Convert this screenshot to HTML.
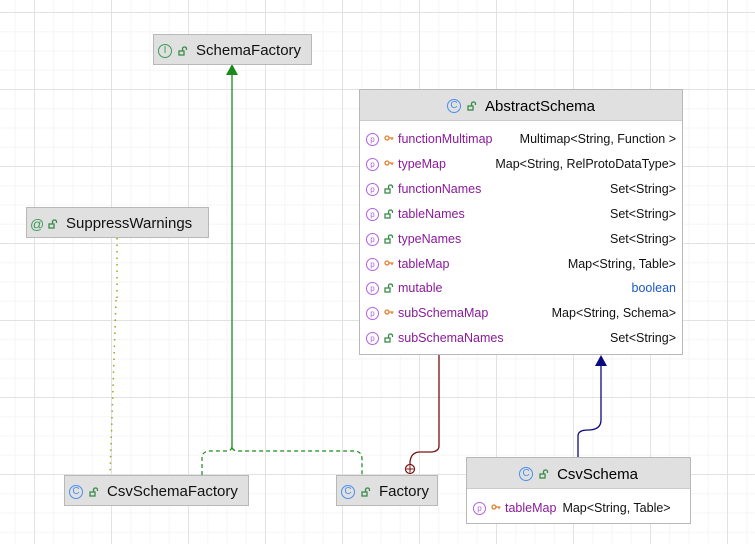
<!DOCTYPE html>
<html><head><style>
body{margin:0;width:755px;height:544px;overflow:hidden;background:#fff;font-family:"Liberation Sans",sans-serif;position:relative}
.grid{position:absolute;left:0;top:0;width:755px;height:544px;
background-image:linear-gradient(#e2e2e2 1px,transparent 1px),linear-gradient(90deg,#e2e2e2 1px,transparent 1px),linear-gradient(#f5f5f5 1px,transparent 1px),linear-gradient(90deg,#f5f5f5 1px,transparent 1px);
background-size:77px 77px,77px 77px,19.25px 19.25px,19.25px 19.25px;
background-position:0 12px,34px 0,0 12px,34px 0}
.box{position:absolute;background:#e0e0e0;border:1px solid #b8b8b8;box-sizing:border-box;font-size:15px;color:#111;display:flex;align-items:center;padding-top:2px}
.ic{display:inline-block;width:12px;height:12px;border:1.3px solid #4a8ff0;border-radius:50%;font-size:10px;line-height:12px;text-align:center;color:#4a8ff0;margin-right:6px}
.lk{display:inline-block;width:10px;height:10px;margin-right:8px;vertical-align:middle}
.big{position:absolute;border:1px solid #b8b8b8;background:#fff;box-sizing:border-box}
.hd{background:#e0e0e0;height:31px;display:flex;align-items:center;justify-content:center;font-size:15px;border-bottom:1px solid #ccc;padding-top:2px;box-sizing:border-box}
.row{position:absolute;left:6px;right:6px;height:20px;font-size:12.5px;display:flex;align-items:center}
.row .p{display:inline-block;width:11px;height:11px;border:1.2px solid #b160e0;border-radius:50%;font-size:8px;line-height:11px;text-align:center;color:#b160e0;margin-right:5px}
.row .lk{margin-right:4px}
.row .n{color:#8a1a9a;flex:1}
.row .t{color:#111}
</style></head><body>
<svg width="0" height="0" style="position:absolute">
<defs>
<symbol id="lock" viewBox="0 0 10 10"><rect x="1" y="5" width="5" height="4" fill="none" stroke="#3a8a4a" stroke-width="1.3"/><path d="M4.5 5 V3 Q4.5 1 6.5 1 Q8.5 1 8.5 3 V4" fill="none" stroke="#3a8a4a" stroke-width="1.3"/></symbol>
<symbol id="key" viewBox="0 0 10 10"><circle cx="3" cy="4" r="2" fill="none" stroke="#e08030" stroke-width="1.3"/><path d="M5 4 H9.5 M8 4 V6" stroke="#e08030" stroke-width="1.3"/></symbol>
</defs></svg>
<div class="grid"></div>
<svg width="755" height="544" style="position:absolute;left:0;top:0">
<path d="M232 448 V74" stroke="#1a8a1a" stroke-width="1.3" fill="none"/>
<polygon points="232,64 226,75 238,75" fill="#1a8a1a"/>
<path d="M202 475 V458 Q202 451 210 451 H226 Q232 451 232 446 Q232 451 238 451 H354 Q362 451 362 459 V475" stroke="#1a8a1a" stroke-width="1.2" stroke-dasharray="4,3" fill="none"/>
<path d="M117 238 V300 M116 300 L110 475" stroke="#a0a020" stroke-width="1.5" stroke-dasharray="1.5,5" fill="none"/>
<path d="M439 354 V446 Q439 451 432 452 H420 Q411 452 410 462 V465" stroke="#7a1010" stroke-width="1.3" fill="none"/>
<circle cx="410" cy="469" r="4.5" stroke="#7a1010" stroke-width="1.2" fill="#fff"/>
<path d="M406.5 469 H413.5 M410 465.5 V472.5" stroke="#7a1010" stroke-width="1"/>
<path d="M578 458 V436 Q578 430 588 430 Q601 430 601 420 V366" stroke="#0a0a80" stroke-width="1.3" fill="none"/>
<polygon points="601,355 595,366 607,366" fill="#0a0a80"/>
</svg>
<div class="box" style="left:153px;top:34px;width:159px;height:31px;padding-left:4px"><span class="ic" style="border-color:#3a9a5a;color:#3a9a5a">I</span><svg class="lk"><use href="#lock"/></svg>SchemaFactory</div>
<div class="box" style="left:26px;top:207px;width:183px;height:31px;padding-left:3px"><span class="ic" style="border:none;color:#3a9a5a;font-size:14px">@</span><svg class="lk"><use href="#lock"/></svg>SuppressWarnings</div>
<div class="box" style="left:64px;top:475px;width:185px;height:31px;padding-left:4px"><span class="ic">C</span><svg class="lk"><use href="#lock"/></svg>CsvSchemaFactory</div>
<div class="box" style="left:336px;top:475px;width:102px;height:31px;padding-left:4px"><span class="ic">C</span><svg class="lk"><use href="#lock"/></svg>Factory</div>
<div class="big" style="left:359px;top:89px;width:324px;height:266px">
<div class="hd"><span class="ic">C</span><svg class="lk"><use href="#lock"/></svg>AbstractSchema</div>
<div class="row" style="top:39px"><span class="p">p</span><svg class="lk"><use href="#key"/></svg><span class="n">functionMultimap</span><span class="t">Multimap&lt;String, Function &gt;</span></div>
<div class="row" style="top:64px"><span class="p">p</span><svg class="lk"><use href="#key"/></svg><span class="n">typeMap</span><span class="t">Map&lt;String, RelProtoDataType&gt;</span></div>
<div class="row" style="top:89px"><span class="p">p</span><svg class="lk"><use href="#lock"/></svg><span class="n">functionNames</span><span class="t">Set&lt;String&gt;</span></div>
<div class="row" style="top:114px"><span class="p">p</span><svg class="lk"><use href="#lock"/></svg><span class="n">tableNames</span><span class="t">Set&lt;String&gt;</span></div>
<div class="row" style="top:139px"><span class="p">p</span><svg class="lk"><use href="#lock"/></svg><span class="n">typeNames</span><span class="t">Set&lt;String&gt;</span></div>
<div class="row" style="top:164px"><span class="p">p</span><svg class="lk"><use href="#key"/></svg><span class="n">tableMap</span><span class="t">Map&lt;String, Table&gt;</span></div>
<div class="row" style="top:188px"><span class="p">p</span><svg class="lk"><use href="#lock"/></svg><span class="n">mutable</span><span class="t" style="color:#1a5ac0">boolean</span></div>
<div class="row" style="top:213px"><span class="p">p</span><svg class="lk"><use href="#key"/></svg><span class="n">subSchemaMap</span><span class="t">Map&lt;String, Schema&gt;</span></div>
<div class="row" style="top:238px"><span class="p">p</span><svg class="lk"><use href="#lock"/></svg><span class="n">subSchemaNames</span><span class="t">Set&lt;String&gt;</span></div>
</div>
<div class="big" style="left:466px;top:457px;width:225px;height:67px">
<div class="hd"><span class="ic">C</span><svg class="lk"><use href="#lock"/></svg>CsvSchema</div>
<div class="row" style="top:40px"><span class="p">p</span><svg class="lk"><use href="#key"/></svg><span class="n" style="flex:none;margin-right:6px">tableMap</span><span class="t">Map&lt;String, Table&gt;</span></div>
</div>
</body></html>
